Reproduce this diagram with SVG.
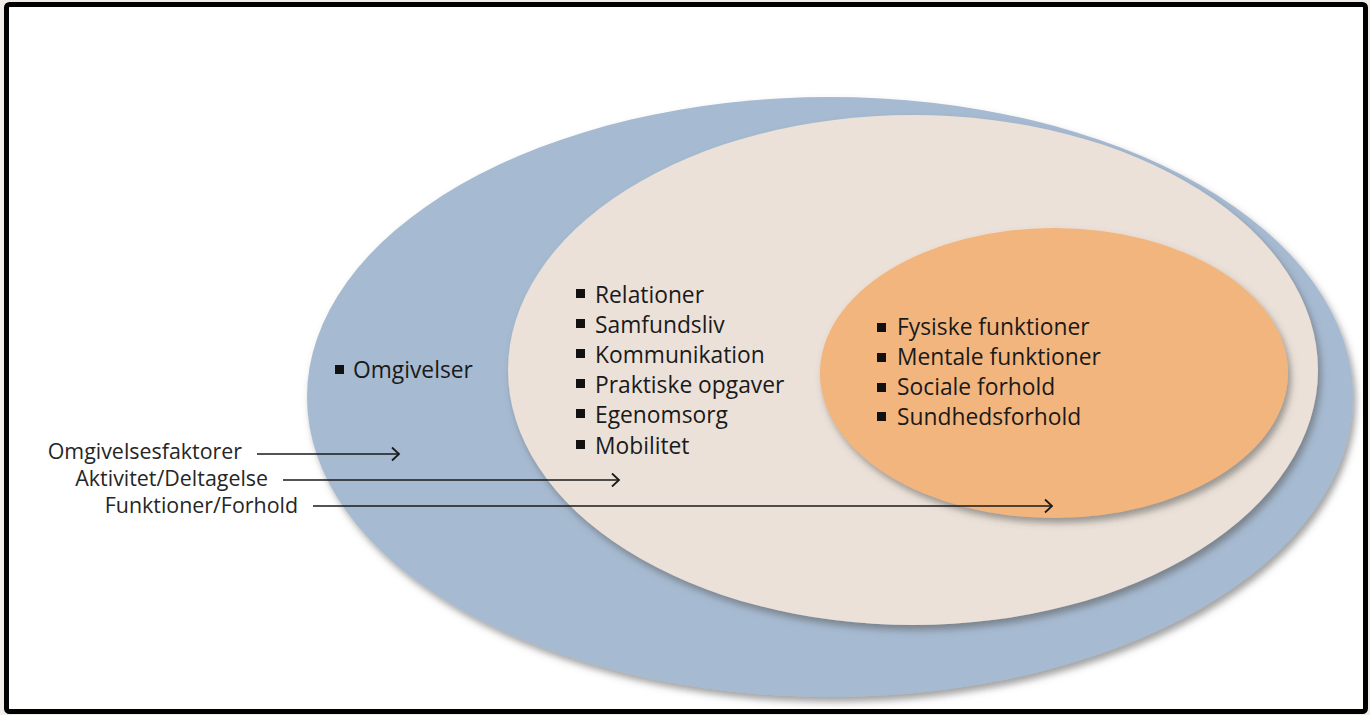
<svg xmlns="http://www.w3.org/2000/svg" width="1370" height="715" viewBox="0 0 1370 715">
<style>
  .t { font-family: "Open Sans", "Noto Sans", sans-serif; font-size: 22.8px; fill: #1a1a1a; }
  .lbl { font-family: "Open Sans", "Noto Sans", sans-serif; font-size: 21.4px; fill: #262626; }
  .b { fill: #111; }
  .arr { stroke: #1a1a1a; stroke-width: 1.6; fill: none; }
</style>
<defs>
  <filter id="sh" x="-10%" y="-10%" width="125%" height="130%">
    <feDropShadow dx="3" dy="5" stdDeviation="3.5" flood-color="#555" flood-opacity="0.55"/>
  </filter>
  <marker id="ah" markerWidth="12" markerHeight="16" refX="10" refY="8" orient="auto" markerUnits="userSpaceOnUse">
    <path d="M3,1.5 L10,8 L3,14.5" fill="none" stroke="#1a1a1a" stroke-width="1.8"/>
  </marker>
</defs>
<rect x="0" y="0" width="1370" height="715" fill="#f2ede9"/>
<rect x="6.5" y="4.5" width="1359" height="707" rx="3" fill="#ffffff" stroke="#000" stroke-width="5"/>

<g id="omgivelser-node">
  <ellipse cx="830" cy="397" rx="523" ry="300" fill="#a6bad1" filter="url(#sh)"/>
  <rect class="b" x="335" y="365" width="9" height="9"/>
  <text class="t" x="353" y="378">Omgivelser</text>
</g>

<g id="aktivitet-node">
  <ellipse cx="913" cy="370" rx="405" ry="255" fill="#ebe1d8" filter="url(#sh)"/>
  <rect class="b" x="576" y="289" width="9" height="9"/>
  <text class="t" x="595" y="303">Relationer</text>
  <rect class="b" x="576" y="319" width="9" height="9"/>
  <text class="t" x="595" y="333">Samfundsliv</text>
  <rect class="b" x="576" y="349" width="9" height="9"/>
  <text class="t" x="595" y="363">Kommunikation</text>
  <rect class="b" x="576" y="379" width="9" height="9"/>
  <text class="t" x="595" y="393">Praktiske opgaver</text>
  <rect class="b" x="576" y="409" width="9" height="9"/>
  <text class="t" x="595" y="423">Egenomsorg</text>
  <rect class="b" x="576" y="440" width="9" height="9"/>
  <text class="t" x="595" y="454">Mobilitet</text>
</g>

<g id="funktioner-node">
  <ellipse cx="1054" cy="373" rx="234" ry="145" fill="#f2b57e" filter="url(#sh)"/>
  <rect class="b" x="877" y="323" width="9" height="9"/>
  <text class="t" x="897" y="335">Fysiske funktioner</text>
  <rect class="b" x="877" y="353" width="9" height="9"/>
  <text class="t" x="897" y="365">Mentale funktioner</text>
  <rect class="b" x="877" y="383" width="9" height="9"/>
  <text class="t" x="897" y="395">Sociale forhold</text>
  <rect class="b" x="877" y="412" width="9" height="9"/>
  <text class="t" x="897" y="425">Sundhedsforhold</text>
</g>

<g id="labels">
  <text class="lbl" x="242" y="459" text-anchor="end">Omgivelsesfaktorer</text>
  <text class="lbl" x="268" y="486" text-anchor="end">Aktivitet/Deltagelse</text>
  <text class="lbl" x="298" y="513" text-anchor="end">Funktioner/Forhold</text>
</g>

<g id="connectors">
  <line class="arr" x1="257" y1="454" x2="399" y2="454" marker-end="url(#ah)"/>
  <line class="arr" x1="283" y1="480" x2="619" y2="480" marker-end="url(#ah)"/>
  <line class="arr" x1="313" y1="506" x2="1052" y2="506" marker-end="url(#ah)"/>
</g>
</svg>
